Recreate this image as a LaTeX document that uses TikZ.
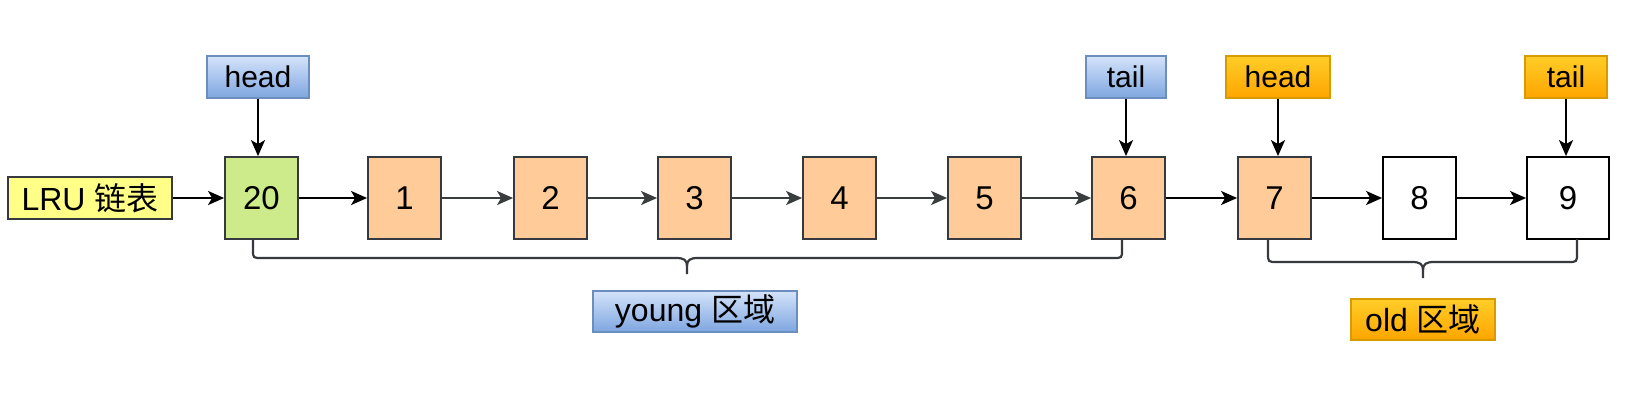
\documentclass[tikz,border=0pt]{standalone}
\usepackage{fontspec}
\setmainfont{Liberation Sans}
\newfontfamily\cjk{Noto Sans CJK SC}
\usetikzlibrary{arrows.meta}
\definecolor{cellborder}{HTML}{36393D}
\definecolor{peach}{HTML}{FFCC99}
\definecolor{lime}{HTML}{CDEB8B}
\definecolor{lruyellow}{HTML}{FFFF88}
\definecolor{bluetop}{HTML}{D4E3FA}
\definecolor{bluebot}{HTML}{7EA6E0}
\definecolor{blueline}{HTML}{6C8EBF}
\definecolor{orangetop}{HTML}{FFCD28}
\definecolor{orangebot}{HTML}{FFA500}
\definecolor{orangeline}{HTML}{D79B00}
\definecolor{grayarrow}{HTML}{3A3D3D}
\tikzset{
  cell/.style={draw=cellborder, line width=0.9pt, minimum width=36.5pt, minimum height=41pt, inner sep=0pt, font=\fontsize{16.5}{19}\selectfont},
  bluelabel/.style={draw=blueline, line width=0.6pt, top color=bluetop, bottom color=bluebot, minimum height=21pt, inner sep=0pt, font=\fontsize{15}{18}\selectfont},
  orangelabel/.style={draw=orangeline, line width=0.6pt, top color=orangetop, bottom color=orangebot, minimum height=21pt, inner sep=0pt, font=\fontsize{15}{18}\selectfont},
  arr/.style={line width=1pt, -{Stealth[length=8pt, width=7pt, inset=2pt]}},
  grayarr/.style={arr, draw=grayarrow, color=grayarrow},
  bracepath/.style={line width=1.1pt, draw=cellborder}
}
\begin{document}
\begin{tikzpicture}[x=0.5pt,y=-0.5pt]
\useasboundingbox (0,0) rectangle (1632,403);
% list cells
\node[cell, fill=lime] (n20) at (261.5,198) {20};
\node[cell, fill=peach] (n1) at (404.5,198) {1};
\node[cell, fill=peach] (n2) at (550.5,198) {2};
\node[cell, fill=peach] (n3) at (694.5,198) {3};
\node[cell, fill=peach] (n4) at (839.5,198) {4};
\node[cell, fill=peach] (n5) at (984.5,198) {5};
\node[cell, fill=peach] (n6) at (1128.5,198) {6};
\node[cell, fill=peach] (n7) at (1274.5,198) {7};
\node[cell, fill=white, draw=black] (n8) at (1419.5,198) {8};
\node[cell, fill=white, draw=black, minimum width=41pt] (n9) at (1568,198) {9};
% LRU entry
\node[draw=cellborder, line width=0.8pt, fill=lruyellow, minimum width=82pt, minimum height=21pt, inner sep=0pt, font=\fontsize{16}{19}\selectfont] (lru) at (90,198) {LRU {\cjk 链表}};
% pointer labels
\node[bluelabel, minimum width=51pt] (yhead) at (258,77) {head};
\node[bluelabel, minimum width=40pt] (ytail) at (1126,77) {tail};
\node[orangelabel, minimum width=52pt] (ohead) at (1278,77) {head};
\node[orangelabel, minimum width=41pt] (otail) at (1566,77) {tail};
% region labels
\node[bluelabel, minimum width=102pt, minimum height=20.5pt, font=\fontsize{16}{19}\selectfont] (young) at (695,311.5) {young {\cjk 区域}};
\node[orangelabel, minimum width=72pt, minimum height=20.5pt, font=\fontsize{16}{19}\selectfont] (old) at (1423,319.5) {old {\cjk 区域}};
% horizontal links
\draw[arr] (lru) -- (n20);
\draw[arr] (n20) -- (n1);
\draw[grayarr] (n1) -- (n2);
\draw[grayarr] (n2) -- (n3);
\draw[grayarr] (n3) -- (n4);
\draw[grayarr] (n4) -- (n5);
\draw[grayarr] (n5) -- (n6);
\draw[arr] (n6) -- (n7);
\draw[arr] (n7) -- (n8);
\draw[arr] (n8) -- (n9);
% pointer arrows
\draw[arr] (yhead.south) -- (yhead.south |- n20.north);
\draw[arr] (ytail.south) -- (ytail.south |- n6.north);
\draw[arr] (ohead.south) -- (ohead.south |- n7.north);
\draw[arr] (otail.south) -- (otail.south |- n9.north);
% young brace
\draw[bracepath] (253,239) -- (253,250) .. controls (253,258) .. (262,258) -- (676,258) .. controls (684,258) and (687,260) .. (687,266) -- (687,274);
\draw[bracepath] (1122,239) -- (1122,250) .. controls (1122,258) .. (1113,258) -- (698,258) .. controls (690,258) and (687,260) .. (687,266);
% old brace
\draw[bracepath] (1268,239) -- (1268,253) .. controls (1268,262) .. (1277,262) -- (1412,262) .. controls (1420,262) and (1423,264) .. (1423,270) -- (1423,278);
\draw[bracepath] (1577,239) -- (1577,253) .. controls (1577,262) .. (1568,262) -- (1434,262) .. controls (1426,262) and (1423,264) .. (1423,270);
\end{tikzpicture}
\end{document}
